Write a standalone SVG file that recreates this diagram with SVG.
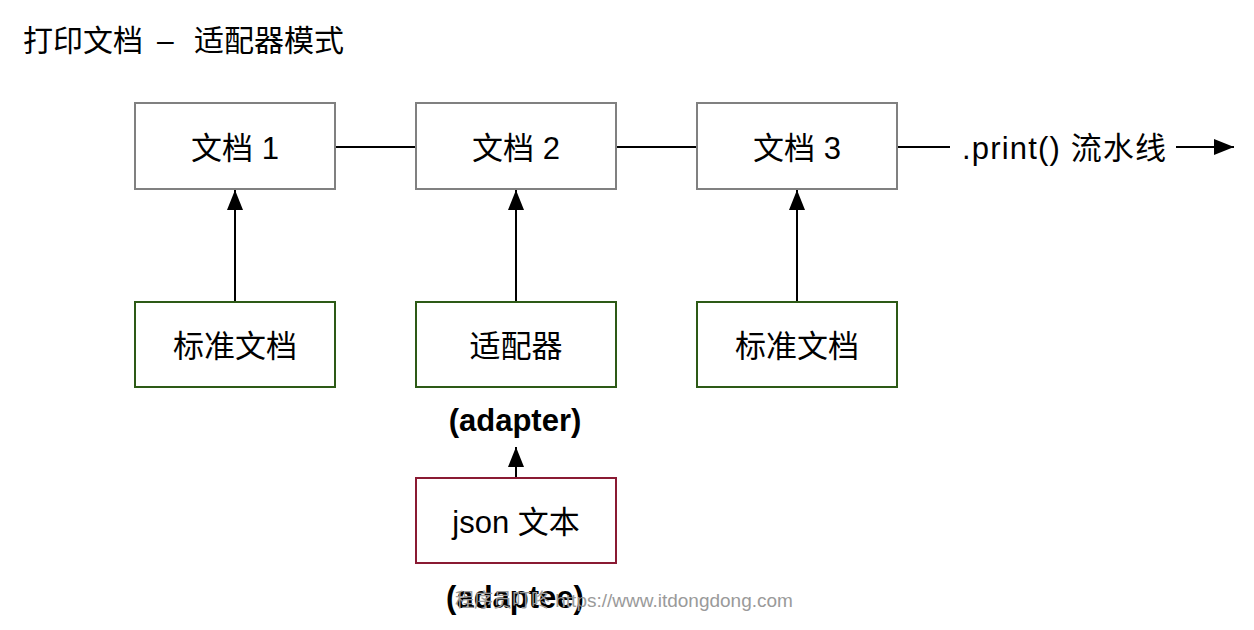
<svg xmlns="http://www.w3.org/2000/svg" width="1254" height="630" viewBox="0 0 1254 630">
<defs>
<style>
text{font-family:"Liberation Sans","Noto Sans CJK SC",sans-serif;fill:#000}
.lbl{font-size:31px;text-anchor:middle;dominant-baseline:central}
.bold{font-size:31px;font-weight:bold;text-anchor:middle;dominant-baseline:central}
.doc{fill:#fff;stroke:#808080;stroke-width:2}
.std{fill:#fff;stroke:#2d5a16;stroke-width:2}
.ee{fill:#fff;stroke:#8a1a33;stroke-width:2}
.ln{stroke:#000;stroke-width:2;fill:none}
.wm{font-size:19px;fill:#9a9a9a}
</style>
<marker id="ah2" viewBox="0 0 20 16" refX="20" refY="8" markerWidth="20" markerHeight="16" markerUnits="userSpaceOnUse" orient="auto">
<path d="M0,0 L20,8 L0,16 z" fill="#000"/>
</marker>
</defs>
<text id="title" x="23" y="40" font-size="30" dominant-baseline="central"><tspan x="23">打印文档</tspan><tspan x="157">–</tspan><tspan x="194">适配器模式</tspan></text>
<g id="connectors">
<line class="ln" x1="335" y1="147" x2="416" y2="147"/>
<line class="ln" x1="616" y1="147" x2="697" y2="147"/>
<line class="ln" x1="897" y1="147" x2="950" y2="147"/>
<line class="ln" x1="1176" y1="147" x2="1234" y2="147" marker-end="url(#ah2)"/>
<line class="ln" x1="235" y1="301" x2="235" y2="190" marker-end="url(#ah2)"/>
<line class="ln" x1="516" y1="301" x2="516" y2="190" marker-end="url(#ah2)"/>
<line class="ln" x1="797" y1="301" x2="797" y2="190" marker-end="url(#ah2)"/>
<line class="ln" x1="516" y1="477" x2="516" y2="447" marker-end="url(#ah2)"/>
</g>
<g id="doc1"><rect class="doc" x="135" y="103" width="200" height="86"/><text class="lbl" x="235" y="148">文档 1</text></g>
<g id="doc2"><rect class="doc" x="416" y="103" width="200" height="86"/><text class="lbl" x="516" y="148">文档 2</text></g>
<g id="doc3"><rect class="doc" x="697" y="103" width="200" height="86"/><text class="lbl" x="797" y="148">文档 3</text></g>
<g id="pipeline"><text class="lbl" x="1064" y="148" textLength="204" lengthAdjust="spacing">.print() 流水线</text></g>
<g id="std1"><rect class="std" x="135" y="302" width="200" height="85"/><text class="lbl" x="235" y="346">标准文档</text></g>
<g id="adapter"><rect class="std" x="416" y="302" width="200" height="85"/><text class="lbl" x="516" y="346">适配器</text></g>
<g id="std2"><rect class="std" x="697" y="302" width="200" height="85"/><text class="lbl" x="797" y="346">标准文档</text></g>
<g id="adapterLabel"><text class="bold" x="515" y="420">(adapter)</text></g>
<g id="json"><rect class="ee" x="416" y="478" width="200" height="85"/><text class="lbl" x="516" y="522">json 文本</text></g>
<g id="adapteeLabel"><text class="bold" x="515" y="597">(adaptee)</text></g>
<text class="wm" x="455" y="600" dominant-baseline="central">程序员叮咚 https://www.itdongdong.com</text>
</svg>
